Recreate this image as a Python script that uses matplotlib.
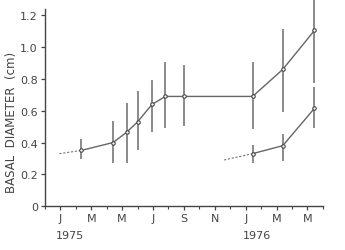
import matplotlib
matplotlib.use("Agg")
import matplotlib.pyplot as plt
import matplotlib.transforms as mtransforms

# months counted from Jan 1975 = 0
upper_month = [1.35, 3.42, 4.3, 5.0, 5.94, 6.8, 8.0, 12.45, 14.4, 16.45]
upper_diam = [0.35, 0.40, 0.465, 0.53, 0.64, 0.69, 0.69, 0.69, 0.86, 1.105]
upper_low = [0.30, 0.28, 0.28, 0.36, 0.47, 0.50, 0.51, 0.49, 0.60, 0.78]
upper_high = [0.415, 0.53, 0.64, 0.72, 0.79, 0.90, 0.88, 0.90, 1.11, 1.45]
upper_dash = ([-0.06, 1.35], [0.33, 0.35])

lower_month = [12.45, 14.4, 16.45]
lower_diam = [0.33, 0.38, 0.615]
lower_low = [0.28, 0.29, 0.50]
lower_high = [0.38, 0.45, 0.74]
lower_dash = ([10.6, 12.45], [0.29, 0.33])

month_ticks = [0, 2, 4, 6, 8, 10, 12, 14, 16]
month_labels = ["J", "M", "M", "J", "S", "N", "J", "M", "M"]
year_pos = [0.65, 12.7]
year_labels = ["1975", "1976"]
y_ticks = [0, 0.2, 0.4, 0.6, 0.8, 1.0, 1.2]
y_labels = ["0", "0.2", "0.4", "0.6", "0.8", "1.0", "1.2"]

ink = "#444444"
bar_col = "#8a8a8a"

fig = plt.figure(figsize=(3.45, 2.51), dpi=100)
ax = fig.add_axes([0.130, 0.175, 0.806, 0.785])

for m, lo, hi in zip(upper_month + lower_month, upper_low + lower_low, upper_high + lower_high):
    ax.plot([m, m], [lo, hi], color=bar_col, lw=1.4, clip_on=False, zorder=1)

ax.plot(upper_month, upper_diam, color="#666666", lw=1.0, marker="o", ms=2.5,
        mfc="white", mec=ink, mew=0.8, zorder=3)
ax.plot(lower_month, lower_diam, color="#666666", lw=1.0, marker="o", ms=2.5,
        mfc="white", mec=ink, mew=0.8, zorder=3)
ax.plot(*upper_dash, color="#777777", lw=0.8, ls=(0, (2, 1.5)), zorder=2)
ax.plot(*lower_dash, color="#777777", lw=0.8, ls=(0, (2, 1.5)), zorder=2)

ax.set_xlim(-1, 17)
ax.set_ylim(0, 1.24)
ax.spines["top"].set_visible(False)
ax.spines["right"].set_visible(False)
for s in ("left", "bottom"):
    ax.spines[s].set_color(ink)
    ax.spines[s].set_linewidth(1.0)

ax.set_xticks(month_ticks)
ax.set_xticklabels(month_labels)
ax.set_xticks(range(-1, 18), minor=True)
ax.set_yticks(y_ticks)
ax.set_yticklabels(y_labels)
ax.tick_params(axis="both", colors=ink, labelsize=8, length=3, width=0.9, pad=2)
ax.tick_params(axis="x", which="minor", colors=ink, length=2, width=0.8)

ax.set_ylabel("BASAL  DIAMETER  (cm)", fontsize=8.5, color=ink)
ax.yaxis.set_label_coords(-0.097, 0.43)

trans = mtransforms.blended_transform_factory(ax.transData, fig.transFigure)
for xp, lab in zip(year_pos, year_labels):
    ax.text(xp, 0.06, lab, transform=trans, ha="center", va="center",
            fontsize=8, color=ink)

fig.savefig("out.png", dpi=100)
